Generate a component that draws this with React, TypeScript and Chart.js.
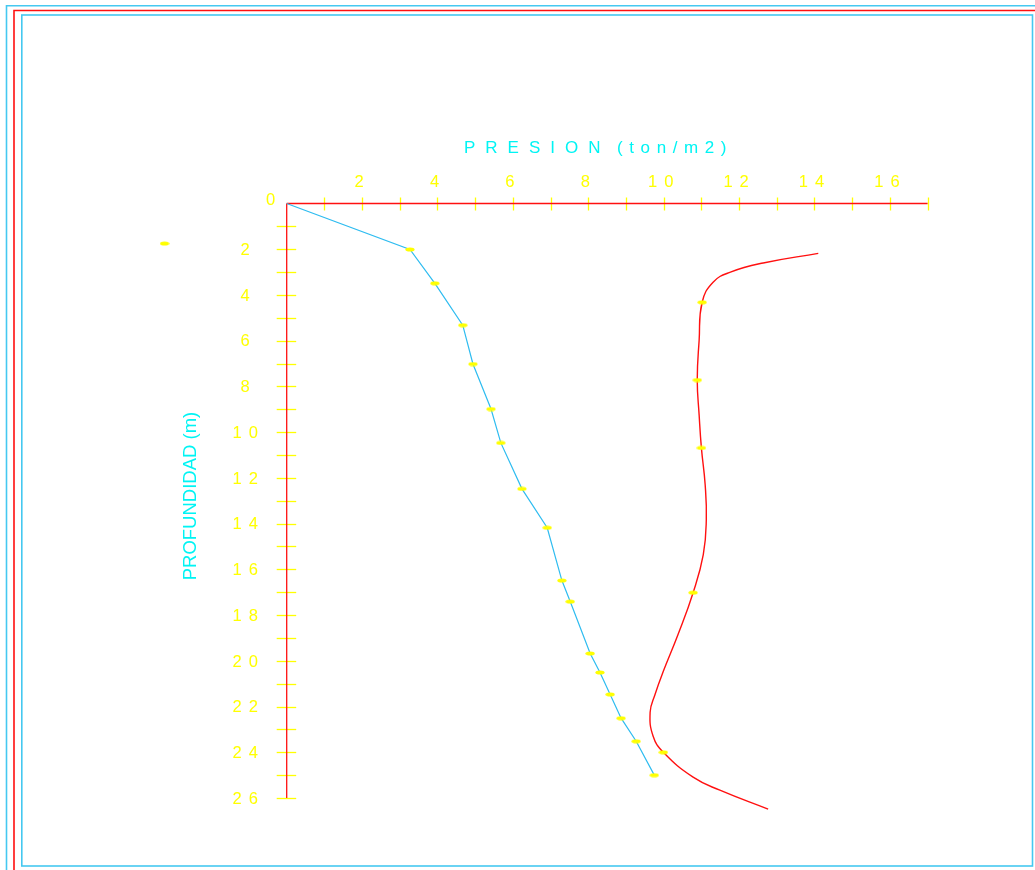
import React, { useEffect, useRef } from 'react';
import { Chart, registerables } from 'chart.js';

Chart.register(...registerables);

// ---- data ----
const pressureMax = 17;
const depthMax = 26;
const pressureTickLabels = [2, 4, 6, 8, 10, 12, 14, 16];
const depthTickLabels = [2, 4, 6, 8, 10, 12, 14, 16, 18, 20, 22, 24, 26];

const bluePressure = [0, 3.27, 3.93, 4.67, 4.94, 5.42, 5.68, 6.24, 6.91, 7.3, 7.52, 8.05, 8.31, 8.58, 8.87, 9.27, 9.75];
const blueDepth = [0, 2.01, 3.49, 5.32, 7.02, 8.99, 10.47, 12.48, 14.18, 16.49, 17.41, 19.68, 20.51, 21.47, 22.51, 23.52, 25.0];

const redCurvePressure = [14.1, 12.64, 11.77, 11.31, 11.02, 10.94, 10.89, 10.94, 11.0, 11.1, 11.13, 11.05, 10.78, 10.38, 9.99, 9.77, 9.64, 9.72, 9.99, 10.78, 11.49, 12.77];
const redCurveDepth = [2.18, 2.6, 3.0, 3.44, 4.32, 5.98, 7.72, 9.25, 10.69, 12.3, 13.83, 15.36, 17.02, 18.85, 20.46, 21.47, 22.25, 23.3, 24.0, 25.09, 25.66, 26.49];

const redMarkerPressure = [11.02, 10.89, 11.0, 10.78, 9.99];
const redMarkerDepth = [4.32, 7.72, 10.69, 17.02, 24.0];

const strayPressure = [-3.24];
const strayDepth = [1.75];

const titleMain = 'PRESION';
const titleUnit = '(ton/m2)';
const yTitle = 'PROFUNDIDAD (m)';

// ---- styles ----
const YELLOW = '#ffff00';
const CYAN = '#00f4f4';
const FRAME_CYAN = '#45c8f0';
const RED = '#ff1010';
const BLUE = '#2ebcf0';
const FONT = '"Liberation Sans", Arial, sans-serif';

function makeMarker(): HTMLCanvasElement {
  const c = document.createElement('canvas');
  c.width = 10;
  c.height = 5;
  const g = c.getContext('2d')!;
  g.fillStyle = YELLOW;
  g.beginPath();
  g.ellipse(5, 2.5, 4.6, 2.1, 0, 0, Math.PI * 2);
  g.fill();
  return c;
}

function spacedWidth(ctx: CanvasRenderingContext2D, text: string, spacing: number) {
  let w = 0;
  const chars = Array.from(text);
  chars.forEach((ch, i) => {
    w += ctx.measureText(ch).width + (i < chars.length - 1 ? spacing : 0);
  });
  return w;
}

function drawSpaced(ctx: CanvasRenderingContext2D, text: string, x: number, y: number, spacing: number) {
  let cx = x;
  for (const ch of Array.from(text)) {
    ctx.fillText(ch, cx, y);
    cx += ctx.measureText(ch).width + spacing;
  }
  return cx;
}

export default function App() {
  const ref = useRef<HTMLCanvasElement>(null);

  useEffect(() => {
    const canvas = ref.current!;
    const marker = makeMarker();

    const decor = {
      id: 'decor',
      beforeDatasetsDraw(chart: any) {
        const ctx: CanvasRenderingContext2D = chart.ctx;
        const xs = chart.scales.x;
        const ys = chart.scales.y;
        const W = chart.width;
        const H = chart.height;
        ctx.save();

        // frames
        ctx.lineWidth = 1.6;
        ctx.strokeStyle = FRAME_CYAN;
        ctx.beginPath();
        ctx.moveTo(6.5, H + 2);
        ctx.lineTo(6.5, 5.8);
        ctx.lineTo(W + 2, 5.8);
        ctx.stroke();
        ctx.strokeStyle = RED;
        ctx.beginPath();
        ctx.moveTo(14, H + 2);
        ctx.lineTo(14, 10.5);
        ctx.lineTo(W + 2, 10.5);
        ctx.stroke();
        ctx.strokeStyle = FRAME_CYAN;
        ctx.strokeRect(21.8, 15, 1032.5 - 21.8, 866 - 15);

        const x0 = xs.getPixelForValue(0);
        const xEnd = xs.getPixelForValue(pressureMax);
        const y0 = ys.getPixelForValue(0);
        const yEnd = ys.getPixelForValue(depthMax);

        // ticks
        ctx.strokeStyle = YELLOW;
        ctx.lineWidth = 1.3;
        for (let v = 1; v <= pressureMax; v++) {
          const px = Math.round(xs.getPixelForValue(v)) + 0.5;
          ctx.beginPath();
          ctx.moveTo(px, y0 - 6);
          ctx.lineTo(px, y0 + 7);
          ctx.stroke();
        }
        for (let v = 1; v <= depthMax; v++) {
          const py = Math.round(ys.getPixelForValue(v)) + 0.5;
          ctx.beginPath();
          ctx.moveTo(x0 - 10, py);
          ctx.lineTo(x0 + 9.5, py);
          ctx.stroke();
        }

        // axes
        ctx.strokeStyle = RED;
        ctx.lineWidth = 1.6;
        ctx.beginPath();
        ctx.moveTo(x0, y0);
        ctx.lineTo(xEnd, y0);
        ctx.stroke();
        ctx.lineWidth = 1.3;
        ctx.beginPath();
        ctx.moveTo(x0, y0);
        ctx.lineTo(x0, yEnd);
        ctx.stroke();

        // tick labels
        ctx.fillStyle = YELLOW;
        ctx.font = `16.5px ${FONT}`;
        ctx.textAlign = 'left';
        ctx.textBaseline = 'alphabetic';
        const digitSpacing = 7;
        pressureTickLabels.forEach((v) => {
          const s = String(v);
          const w = spacedWidth(ctx, s, digitSpacing);
          const cx = xs.getPixelForValue(v) - 3;
          drawSpaced(ctx, s, cx - w / 2, y0 - 16.5, digitSpacing);
        });
        depthTickLabels.forEach((v) => {
          const s = String(v);
          const w = spacedWidth(ctx, s, digitSpacing);
          const cy = ys.getPixelForValue(v);
          drawSpaced(ctx, s, x0 - 41.5 - w / 2, cy + 5.8, digitSpacing);
        });
        {
          const w = ctx.measureText('0').width;
          ctx.fillText('0', x0 - 16 - w / 2, y0 + 1.5);
        }

        // titles
        ctx.fillStyle = CYAN;
        ctx.font = `17px ${FONT}`;
        drawSpaced(ctx, titleMain, 464, 153, 10);
        drawSpaced(ctx, titleUnit, 617, 153, 6.6);

        ctx.save();
        ctx.translate(196, 496);
        ctx.rotate(-Math.PI / 2);
        ctx.font = `18.5px ${FONT}`;
        ctx.textAlign = 'center';
        ctx.fillText(yTitle, 0, 0);
        ctx.restore();

        // stray marker
        strayPressure.forEach((p, i) => {
          const px = xs.getPixelForValue(p);
          const py = ys.getPixelForValue(strayDepth[i]);
          ctx.drawImage(marker, px - marker.width / 2, py - marker.height / 2);
        });

        ctx.restore();
      },
    };

    const chart = new Chart(canvas, {
      type: 'line',
      data: {
        datasets: [
          {
            data: redMarkerPressure.map((x, i) => ({ x, y: redMarkerDepth[i] })),
            showLine: false,
            pointStyle: marker as any,
            pointRadius: 3,
            order: 0,
            clip: false as any,
          },
          {
            data: bluePressure.map((x, i) => ({ x, y: blueDepth[i] })),
            borderColor: BLUE,
            borderWidth: 1.2,
            tension: 0,
            pointStyle: marker as any,
            pointRadius: bluePressure.map((_, i) => (i === 0 ? 0 : 3)),
            order: 0,
            clip: false as any,
          },
          {
            data: redCurvePressure.map((x, i) => ({ x, y: redCurveDepth[i] })),
            borderColor: RED,
            borderWidth: 1.4,
            tension: 0.45,
            cubicInterpolationMode: 'default',
            pointRadius: 0,
            order: 1,
            clip: false as any,
          },
        ],
      },
      options: {
        responsive: false,
        animation: false,
        events: [],
        layout: { padding: { left: 286.7, top: 203.5, right: 107.4, bottom: 72 } },
        elements: { line: { capBezierPoints: false } },
        scales: {
          x: { type: 'linear', min: 0, max: pressureMax, display: false },
          y: { type: 'linear', min: 0, max: depthMax, reverse: true, display: false },
        },
        plugins: { legend: { display: false }, tooltip: { enabled: false } },
      },
      plugins: [decor],
    });

    return () => chart.destroy();
  }, []);

  return (
    <canvas
      ref={ref}
      width={1035}
      height={870}
      style={{ position: 'absolute', left: 0, top: 0, width: 1035, height: 870, background: '#ffffff' }}
    />
  );
}
